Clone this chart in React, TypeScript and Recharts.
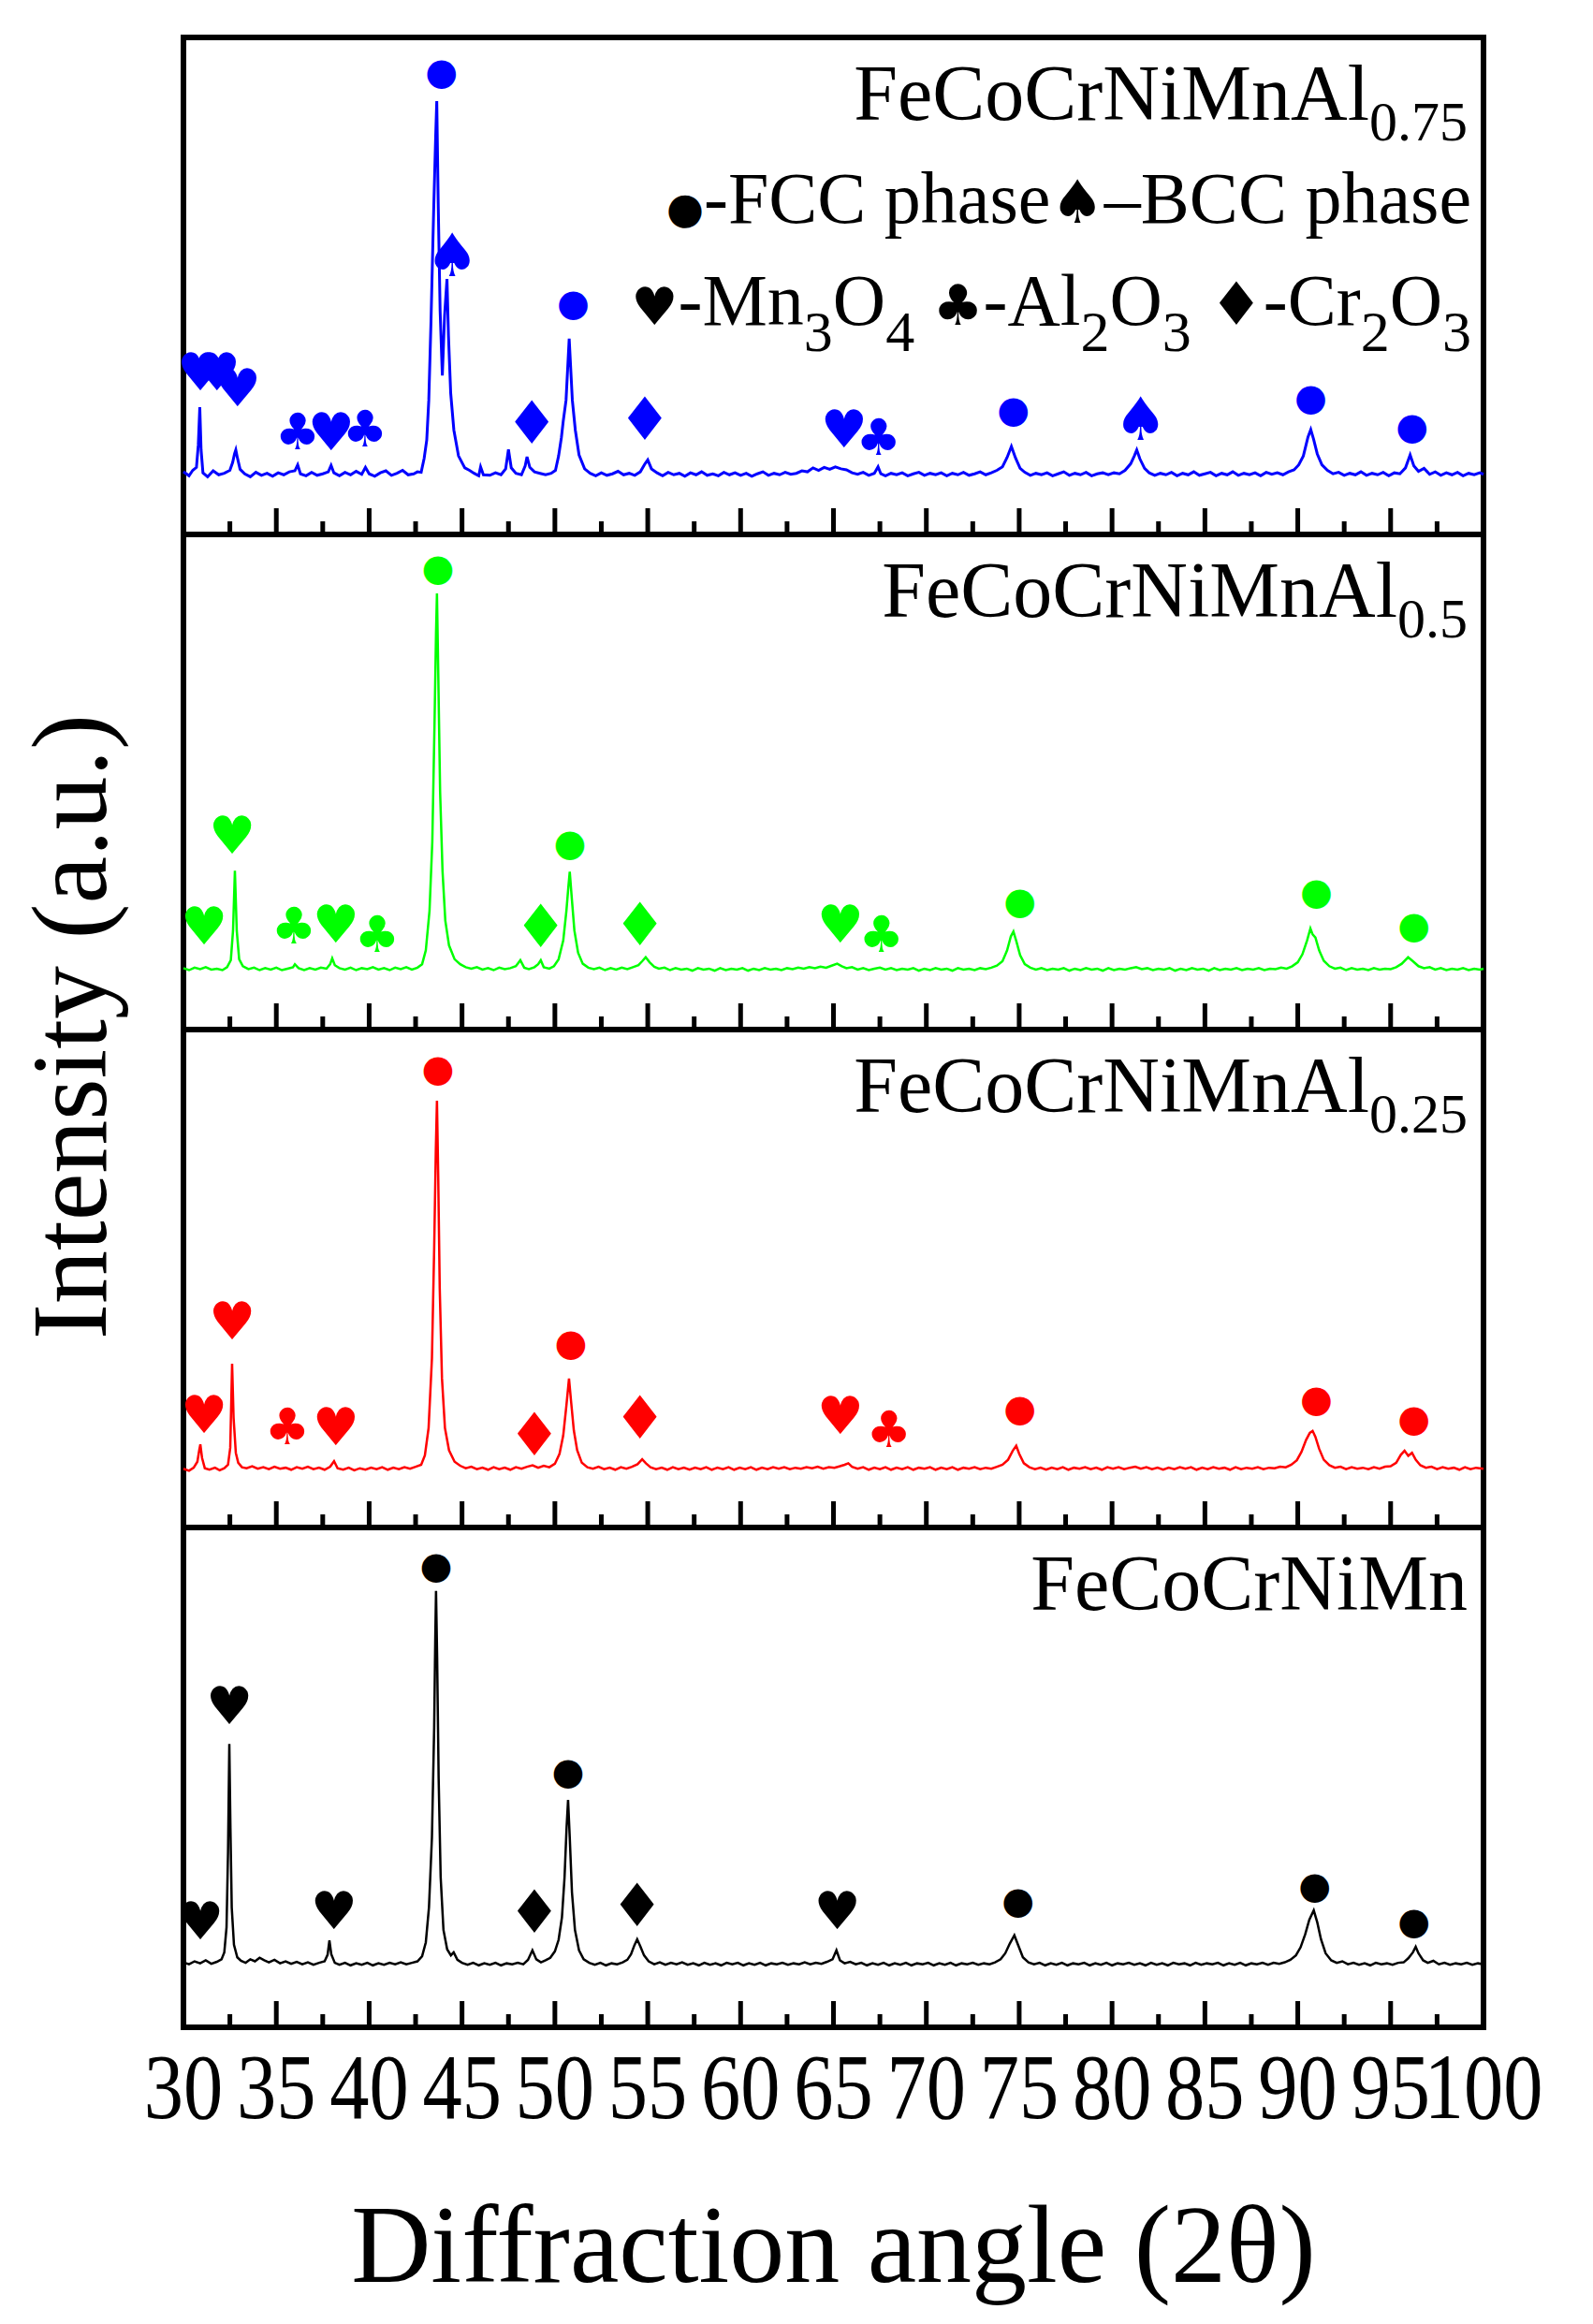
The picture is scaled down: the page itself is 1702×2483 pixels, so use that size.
import { ComposedChart, Line, Scatter, XAxis, YAxis, ReferenceArea } from 'recharts'

// 2θ scans, intensity in a.u. (0-100 per panel)
const al075Scan: [number, number][] = [
  [30.0, 12.6], [30.3, 11.8], [30.5, 12.9], [30.7, 13.5], [30.8, 18], [30.88, 25.6], [30.95, 17], [31.05, 12.4],
  [31.3, 11.6], [31.6, 12.8], [31.9, 12.0], [32.2, 12.3], [32.5, 12.9], [32.65, 14.5], [32.75, 16.2], [32.82, 17],
  [32.9, 15.5], [33.05, 13.1], [33.3, 12.2], [33.6, 11.6], [33.9, 12.5], [34.2, 11.9], [34.5, 12.3], [34.8, 11.7],
  [35.1, 12.4], [35.4, 12.0], [35.7, 12.6], [36.0, 12.8], [36.15, 14.0], [36.3, 12.2], [36.6, 11.8], [36.9, 12.5],
  [37.2, 11.9], [37.5, 12.2], [37.8, 12.6], [37.95, 13.9], [38.1, 12.4], [38.4, 11.8], [38.7, 12.5], [39.0, 12.0],
  [39.3, 12.7], [39.6, 12.1], [39.8, 13.5], [40.0, 12.2], [40.3, 11.7], [40.6, 12.4], [40.9, 12.8], [41.2, 11.9],
  [41.5, 12.3], [41.8, 12.9], [42.1, 12.0], [42.4, 12.2], [42.6, 12.6], [42.8, 12.5], [42.96, 15.3], [43.1, 19],
  [43.21, 27], [43.33, 43], [43.47, 64.8], [43.58, 80], [43.64, 87.2], [43.72, 66], [43.82, 45], [43.94, 32],
  [44.06, 44], [44.19, 51.4], [44.27, 40], [44.39, 28.4], [44.56, 21], [44.81, 15.8], [45.15, 13.4], [45.4, 12.9],
  [45.65, 12.3], [45.9, 11.8], [46.0, 13.6], [46.15, 12.0], [46.5, 11.9], [46.8, 12.4], [47.1, 12.0], [47.35, 13.2],
  [47.5, 17.1], [47.65, 13.4], [47.9, 12.3], [48.2, 12.0], [48.4, 13.8], [48.5, 15.6], [48.65, 13.5], [48.9, 12.6],
  [49.2, 12.3], [49.5, 12.0], [49.8, 12.3], [50.03, 12.9], [50.2, 15.8], [50.35, 19.5], [50.45, 22.8], [50.6, 27],
  [50.77, 39.4], [50.94, 27], [51.1, 21], [51.3, 16], [51.6, 13.2], [51.9, 12.3], [52.2, 11.8], [52.5, 12.4],
  [52.8, 11.9], [53.1, 12.2], [53.4, 12.7], [53.7, 12.0], [54.0, 12.3], [54.3, 11.9], [54.6, 12.6], [54.85, 14.2],
  [55.0, 15.0], [55.2, 13.2], [55.5, 12.4], [55.8, 11.8], [56.1, 12.5], [56.4, 12.0], [56.7, 12.3], [57.0, 11.7],
  [57.3, 12.4], [57.6, 12.0], [57.9, 12.6], [58.2, 11.9], [58.5, 12.2], [58.8, 11.8], [59.1, 12.5], [59.4, 12.0],
  [59.7, 12.4], [60.0, 11.9], [60.3, 12.3], [60.6, 11.7], [60.9, 12.2], [61.2, 12.6], [61.5, 11.9], [61.8, 12.3],
  [62.1, 12.0], [62.4, 12.5], [62.7, 12.1], [63.0, 12.3], [63.3, 12.8], [63.6, 12.6], [63.9, 13.4], [64.2, 12.9],
  [64.5, 13.5], [64.8, 13.1], [65.1, 13.6], [65.4, 13.2], [65.7, 13.0], [66.0, 12.4], [66.3, 12.1], [66.6, 12.5],
  [66.9, 11.9], [67.2, 12.3], [67.4, 13.6], [67.55, 12.2], [67.8, 11.8], [68.1, 12.3], [68.4, 12.0], [68.7, 12.4],
  [69.0, 11.8], [69.3, 12.2], [69.6, 12.5], [69.9, 11.9], [70.2, 12.3], [70.5, 12.0], [70.8, 12.4], [71.1, 11.8],
  [71.4, 12.3], [71.7, 12.0], [72.0, 12.5], [72.3, 11.9], [72.6, 12.2], [72.9, 12.6], [73.2, 12.0], [73.5, 12.4],
  [73.8, 12.9], [74.1, 13.6], [74.35, 15.5], [74.58, 17.7], [74.8, 15.4], [75.05, 13.3], [75.3, 12.5], [75.6, 11.9],
  [75.9, 12.3], [76.2, 12.0], [76.5, 12.4], [76.8, 11.8], [77.1, 12.2], [77.4, 12.6], [77.7, 11.9], [78.0, 12.3],
  [78.3, 12.0], [78.6, 12.5], [78.9, 11.8], [79.2, 12.2], [79.5, 12.4], [79.8, 12.0], [80.1, 12.4], [80.4, 12.2],
  [80.7, 12.9], [81.0, 14.2], [81.2, 15.8], [81.33, 17], [81.5, 15.2], [81.75, 13.3], [82.0, 12.4], [82.3, 11.9],
  [82.6, 12.3], [82.9, 12.0], [83.2, 12.5], [83.5, 11.8], [83.8, 12.3], [84.1, 12.0], [84.4, 12.6], [84.7, 11.9],
  [85.0, 12.2], [85.3, 12.5], [85.6, 11.8], [85.9, 12.3], [86.2, 12.0], [86.5, 12.6], [86.8, 11.9], [87.1, 12.3],
  [87.4, 12.0], [87.7, 12.4], [88.0, 11.8], [88.3, 12.5], [88.6, 12.1], [88.9, 12.4], [89.2, 12.0], [89.5, 12.6],
  [89.8, 13.0], [90.05, 14.0], [90.3, 15.8], [90.55, 19.6], [90.7, 21.1], [90.85, 19.2], [91.05, 16.2], [91.3, 14.0],
  [91.6, 12.9], [91.9, 12.2], [92.2, 12.5], [92.5, 11.9], [92.8, 12.3], [93.1, 12.0], [93.4, 12.6], [93.7, 11.9],
  [94.0, 12.3], [94.3, 12.0], [94.6, 12.5], [94.9, 11.8], [95.2, 12.4], [95.5, 12.2], [95.8, 13.4], [96.05, 16.0],
  [96.25, 13.8], [96.5, 12.7], [96.8, 13.3], [97.1, 12.1], [97.4, 12.6], [97.7, 11.9], [98.0, 12.4], [98.3, 12.0],
  [98.6, 12.5], [98.9, 11.8], [99.2, 12.3], [99.5, 12.0], [99.8, 12.4], [100, 12.1],
]

const al05Scan: [number, number][] = [
  [30.0, 12.4], [30.3, 12.0], [30.6, 12.5], [30.9, 12.2], [31.2, 12.6], [31.5, 12.1], [31.8, 12.3], [32.1, 12.0],
  [32.35, 12.6], [32.55, 14.0], [32.67, 20], [32.77, 32.1], [32.87, 20], [33.0, 14.2], [33.2, 12.8], [33.5, 12.2],
  [33.8, 12.5], [34.1, 12.0], [34.4, 12.4], [34.7, 12.1], [35.0, 12.5], [35.3, 12.0], [35.6, 12.3], [35.9, 12.6],
  [36.0, 13.2], [36.2, 12.4], [36.5, 12.0], [36.8, 12.4], [37.1, 12.1], [37.4, 12.5], [37.7, 12.3], [37.9, 13.2],
  [38.01, 14.4], [38.15, 13.0], [38.4, 12.4], [38.7, 12.1], [39.0, 12.5], [39.3, 12.0], [39.6, 12.4], [39.9, 12.2],
  [40.2, 12.6], [40.5, 12.1], [40.8, 12.4], [41.1, 12.0], [41.4, 12.5], [41.7, 12.2], [42.0, 12.6], [42.3, 12.1],
  [42.6, 12.5], [42.85, 13.2], [43.05, 16], [43.25, 24], [43.4, 38], [43.52, 62], [43.6, 80], [43.65, 88.1],
  [43.72, 72], [43.82, 48], [43.95, 32], [44.1, 22], [44.3, 17], [44.6, 14.2], [44.9, 13.2], [45.2, 12.6],
  [45.5, 12.3], [45.8, 12.6], [46.1, 12.1], [46.4, 12.4], [46.7, 12.0], [47.0, 12.5], [47.3, 12.2], [47.6, 12.4],
  [47.9, 12.8], [48.14, 14.0], [48.35, 12.5], [48.6, 12.2], [48.9, 12.6], [49.1, 13.2], [49.24, 14.0], [49.4, 12.6],
  [49.7, 12.3], [49.95, 12.8], [50.2, 14.2], [50.45, 18], [50.62, 24], [50.73, 29], [50.8, 31.9], [50.9, 27],
  [51.05, 20], [51.25, 15.5], [51.5, 13.3], [51.8, 12.5], [52.1, 12.2], [52.4, 12.5], [52.7, 12.0], [53.0, 12.4],
  [53.3, 12.1], [53.6, 12.5], [53.9, 12.2], [54.2, 12.6], [54.5, 13.0], [54.7, 13.8], [54.89, 14.6], [55.1, 13.6],
  [55.35, 12.7], [55.6, 12.3], [55.9, 12.5], [56.2, 12.0], [56.5, 12.4], [56.8, 12.1], [57.1, 12.3], [57.4, 11.9],
  [57.7, 12.4], [58.0, 12.1], [58.3, 12.3], [58.6, 11.9], [58.9, 12.4], [59.2, 12.0], [59.5, 12.3], [59.8, 12.1],
  [60.1, 12.4], [60.4, 11.9], [60.7, 12.3], [61.0, 12.0], [61.3, 12.4], [61.6, 12.1], [61.9, 12.3], [62.2, 12.0],
  [62.5, 12.4], [62.8, 12.2], [63.1, 12.5], [63.4, 12.3], [63.7, 12.6], [64.0, 12.4], [64.3, 12.7], [64.6, 12.5],
  [64.9, 12.9], [65.2, 13.3], [65.45, 12.8], [65.7, 12.4], [66.0, 12.6], [66.3, 12.1], [66.6, 12.4], [66.9, 12.0],
  [67.2, 12.3], [67.5, 12.5], [67.8, 12.1], [68.1, 12.4], [68.4, 12.0], [68.7, 12.3], [69.0, 12.1], [69.3, 12.4],
  [69.6, 11.9], [69.9, 12.3], [70.2, 12.0], [70.5, 12.4], [70.8, 12.1], [71.1, 12.3], [71.4, 11.9], [71.7, 12.4],
  [72.0, 12.1], [72.3, 12.3], [72.6, 12.0], [72.9, 12.4], [73.2, 12.2], [73.5, 12.5], [73.8, 12.9], [74.1, 13.8],
  [74.35, 16.0], [74.55, 18.8], [74.69, 19.8], [74.85, 17.8], [75.05, 15.0], [75.3, 13.2], [75.6, 12.5], [75.9, 12.1],
  [76.2, 12.4], [76.5, 12.0], [76.8, 12.3], [77.1, 12.1], [77.4, 12.4], [77.7, 11.9], [78.0, 12.3], [78.3, 12.0],
  [78.6, 12.4], [78.9, 12.1], [79.2, 12.3], [79.5, 11.9], [79.8, 12.4], [80.1, 12.0], [80.4, 12.3], [80.7, 12.1],
  [81.0, 12.4], [81.3, 12.6], [81.6, 12.2], [81.9, 12.4], [82.2, 12.0], [82.5, 12.3], [82.8, 12.1], [83.1, 12.4],
  [83.4, 11.9], [83.7, 12.3], [84.0, 12.0], [84.3, 12.4], [84.6, 12.1], [84.9, 12.3], [85.2, 11.9], [85.5, 12.4],
  [85.8, 12.0], [86.1, 12.3], [86.4, 12.1], [86.7, 12.4], [87.0, 12.0], [87.3, 12.3], [87.6, 12.1], [87.9, 12.4],
  [88.2, 12.0], [88.5, 12.3], [88.8, 12.2], [89.1, 12.5], [89.4, 12.3], [89.7, 12.8], [90.0, 13.6], [90.25, 15.2],
  [90.5, 18.0], [90.68, 20.4], [90.8, 19.2], [90.95, 18.6], [91.15, 16.0], [91.4, 13.9], [91.7, 12.8], [92.0, 12.3],
  [92.3, 12.5], [92.6, 12.0], [92.9, 12.4], [93.2, 12.1], [93.5, 12.3], [93.8, 12.0], [94.1, 12.4], [94.4, 12.1],
  [94.7, 12.3], [95.0, 12.2], [95.3, 12.6], [95.6, 13.3], [95.94, 14.6], [96.2, 13.8], [96.5, 12.8], [96.8, 12.4],
  [97.1, 12.6], [97.4, 12.1], [97.7, 12.4], [98.0, 12.0], [98.3, 12.3], [98.6, 12.1], [98.9, 12.4], [99.2, 12.0],
  [99.5, 12.3], [99.8, 12.1], [100, 12.3],
]

const al025Scan: [number, number][] = [
  [30.0, 11.8], [30.3, 11.4], [30.55, 12.0], [30.75, 13.2], [30.85, 15.5], [30.91, 16.7], [31.0, 14.0], [31.15, 11.9],
  [31.4, 11.6], [31.7, 12.0], [31.95, 11.5], [32.2, 11.9], [32.4, 12.6], [32.52, 16], [32.62, 32.9], [32.7, 22],
  [32.82, 15], [32.95, 13.0], [33.15, 12.1], [33.4, 11.9], [33.7, 12.3], [34.0, 11.8], [34.3, 12.1], [34.6, 11.7],
  [34.9, 12.2], [35.2, 11.8], [35.5, 12.0], [35.8, 11.6], [36.1, 12.1], [36.4, 11.8], [36.7, 12.2], [37.0, 11.7],
  [37.3, 12.0], [37.6, 11.6], [37.9, 12.2], [38.11, 13.3], [38.3, 11.9], [38.6, 11.6], [38.9, 12.0], [39.2, 11.5],
  [39.5, 11.9], [39.8, 11.6], [40.1, 12.0], [40.4, 11.7], [40.7, 12.1], [41.0, 11.6], [41.3, 12.0], [41.6, 11.7],
  [41.9, 12.1], [42.2, 11.8], [42.5, 12.2], [42.8, 12.6], [43.0, 14.5], [43.2, 20], [43.38, 34], [43.5, 56],
  [43.59, 76], [43.65, 85.7], [43.72, 70], [43.8, 48], [43.92, 30], [44.08, 20], [44.3, 15.5], [44.6, 13.2],
  [44.9, 12.4], [45.2, 11.9], [45.5, 12.2], [45.8, 11.7], [46.1, 12.0], [46.4, 11.6], [46.7, 12.1], [47.0, 11.7],
  [47.3, 12.0], [47.6, 11.6], [47.9, 12.1], [48.2, 11.8], [48.5, 12.2], [48.8, 12.5], [49.1, 12.0], [49.4, 12.4],
  [49.7, 12.1], [50.0, 12.8], [50.25, 14.8], [50.45, 18.5], [50.62, 24.5], [50.76, 29.9], [50.88, 25], [51.02, 19.5],
  [51.2, 15.5], [51.45, 13.0], [51.75, 12.1], [52.05, 11.8], [52.35, 12.2], [52.65, 11.7], [52.95, 12.0], [53.25, 11.6],
  [53.55, 12.1], [53.85, 11.8], [54.15, 12.2], [54.45, 12.7], [54.7, 13.7], [54.9, 12.9], [55.15, 12.1], [55.45, 11.7],
  [55.75, 12.0], [56.05, 11.6], [56.35, 12.1], [56.65, 11.7], [56.95, 12.0], [57.25, 11.6], [57.55, 12.0], [57.85, 11.7],
  [58.15, 12.1], [58.45, 11.6], [58.75, 12.0], [59.05, 11.7], [59.35, 12.1], [59.65, 11.6], [59.95, 12.0], [60.25, 11.7],
  [60.55, 12.1], [60.85, 11.6], [61.15, 12.0], [61.45, 11.7], [61.75, 12.1], [62.05, 11.8], [62.35, 12.1], [62.65, 11.7],
  [62.95, 12.0], [63.25, 11.8], [63.55, 12.1], [63.85, 11.9], [64.15, 12.2], [64.45, 11.8], [64.75, 12.1], [65.05, 12.0],
  [65.35, 12.3], [65.6, 12.6], [65.8, 12.9], [66.0, 12.2], [66.3, 11.8], [66.6, 12.1], [66.9, 11.6], [67.2, 12.0],
  [67.5, 11.7], [67.8, 12.1], [68.1, 11.6], [68.4, 12.0], [68.7, 11.7], [69.0, 12.1], [69.3, 11.6], [69.6, 12.0],
  [69.9, 11.8], [70.2, 12.1], [70.5, 11.6], [70.8, 12.0], [71.1, 11.7], [71.4, 12.1], [71.7, 11.6], [72.0, 12.0],
  [72.3, 11.8], [72.6, 12.1], [72.9, 11.7], [73.2, 12.0], [73.5, 11.8], [73.8, 12.2], [74.1, 12.6], [74.4, 13.6],
  [74.65, 15.4], [74.84, 16.4], [75.0, 14.8], [75.25, 12.9], [75.55, 12.1], [75.85, 11.7], [76.15, 12.0], [76.45, 11.6],
  [76.75, 12.0], [77.05, 11.7], [77.35, 12.1], [77.65, 11.6], [77.95, 12.0], [78.25, 11.8], [78.55, 12.1], [78.85, 11.7],
  [79.15, 12.0], [79.45, 11.6], [79.75, 12.1], [80.05, 11.8], [80.35, 12.1], [80.65, 11.7], [80.95, 12.0], [81.25, 12.2],
  [81.55, 11.8], [81.85, 12.1], [82.15, 11.7], [82.45, 12.0], [82.75, 11.6], [83.05, 12.0], [83.35, 11.7], [83.65, 12.1],
  [83.95, 11.8], [84.25, 12.1], [84.55, 11.6], [84.85, 12.0], [85.15, 11.7], [85.45, 12.1], [85.75, 11.8], [86.05, 12.0],
  [86.35, 11.6], [86.65, 12.1], [86.95, 11.7], [87.25, 12.0], [87.55, 11.8], [87.85, 12.1], [88.15, 11.7], [88.45, 12.0],
  [88.75, 11.9], [89.05, 12.2], [89.35, 12.1], [89.65, 12.6], [89.95, 13.5], [90.2, 15.2], [90.45, 17.6], [90.65, 19.0],
  [90.8, 19.4], [90.95, 18.2], [91.15, 15.8], [91.4, 13.6], [91.7, 12.5], [92.0, 12.0], [92.3, 12.2], [92.6, 11.7],
  [92.9, 12.1], [93.2, 11.8], [93.5, 12.0], [93.8, 11.7], [94.1, 12.1], [94.4, 11.8], [94.7, 12.2], [95.0, 12.3],
  [95.3, 13.0], [95.55, 14.6], [95.75, 15.4], [95.95, 14.4], [96.15, 15.0], [96.35, 13.6], [96.6, 12.5], [96.9, 12.0],
  [97.2, 12.2], [97.5, 11.7], [97.8, 12.1], [98.1, 11.8], [98.4, 12.0], [98.7, 11.6], [99.0, 12.1], [99.3, 11.7],
  [99.6, 12.0], [100, 11.8],
]

const al0Scan: [number, number][] = [
  [30.0, 13.0], [30.3, 12.6], [30.6, 13.2], [30.9, 12.8], [31.2, 13.4], [31.5, 12.7], [31.8, 13.1], [32.05, 13.6],
  [32.2, 15.0], [32.32, 20], [32.4, 35], [32.47, 56.7], [32.53, 40], [32.6, 24], [32.72, 16.5], [32.9, 14.0],
  [33.1, 13.3], [33.35, 12.9], [33.6, 13.6], [33.85, 13.2], [34.1, 13.9], [34.35, 13.4], [34.6, 13.0], [34.9, 13.5],
  [35.2, 12.8], [35.5, 13.2], [35.8, 12.7], [36.1, 13.1], [36.4, 12.6], [36.7, 13.0], [37.0, 12.5], [37.3, 12.9],
  [37.6, 13.2], [37.76, 14.5], [37.86, 17.4], [37.96, 14.6], [38.15, 12.9], [38.4, 12.5], [38.7, 12.9], [39.0, 12.4],
  [39.3, 12.8], [39.6, 12.5], [39.9, 12.9], [40.2, 12.4], [40.5, 12.8], [40.8, 12.5], [41.1, 12.9], [41.4, 12.6],
  [41.7, 13.0], [42.0, 12.6], [42.3, 12.9], [42.6, 13.2], [42.85, 14.2], [43.05, 17.0], [43.22, 24], [43.38, 38],
  [43.5, 60], [43.56, 78], [43.6, 87.3], [43.66, 74], [43.74, 50], [43.85, 30], [44.0, 19.5], [44.2, 15.6],
  [44.4, 14.4], [44.55, 15.0], [44.75, 13.5], [45.0, 12.9], [45.3, 12.5], [45.6, 12.9], [45.9, 12.4], [46.2, 12.8],
  [46.5, 12.5], [46.8, 12.9], [47.1, 12.4], [47.4, 12.8], [47.7, 12.6], [48.0, 12.9], [48.3, 12.6], [48.55, 13.5],
  [48.79, 15.4], [49.0, 13.6], [49.25, 13.0], [49.5, 13.4], [49.75, 13.9], [50.0, 15.2], [50.2, 17.5], [50.38, 22],
  [50.52, 30], [50.63, 40], [50.71, 45.5], [50.8, 38], [50.92, 27], [51.08, 19.5], [51.3, 15.4], [51.55, 13.6],
  [51.85, 12.9], [52.15, 12.5], [52.45, 12.9], [52.75, 12.4], [53.05, 12.8], [53.35, 12.6], [53.65, 13.0], [53.9, 13.5],
  [54.1, 14.6], [54.28, 16.4], [54.43, 17.6], [54.6, 16.2], [54.8, 14.4], [55.05, 13.2], [55.35, 12.6], [55.65, 13.0],
  [55.95, 12.5], [56.25, 12.9], [56.55, 12.6], [56.85, 13.0], [57.15, 12.5], [57.45, 12.8], [57.75, 12.4], [58.05, 12.9],
  [58.35, 12.5], [58.65, 12.8], [58.95, 12.4], [59.25, 12.9], [59.55, 12.6], [59.85, 12.9], [60.15, 12.4], [60.45, 12.8],
  [60.75, 12.5], [61.05, 12.9], [61.35, 12.4], [61.65, 12.8], [61.95, 12.6], [62.25, 12.9], [62.55, 12.5], [62.85, 12.8],
  [63.15, 12.6], [63.45, 13.0], [63.75, 12.6], [64.05, 12.9], [64.35, 12.7], [64.65, 13.1], [64.95, 13.6], [65.16, 15.4],
  [65.35, 13.4], [65.6, 12.8], [65.9, 13.1], [66.2, 12.6], [66.5, 12.9], [66.8, 12.4], [67.1, 12.8], [67.4, 12.5],
  [67.7, 12.9], [68.0, 12.4], [68.3, 12.8], [68.6, 12.5], [68.9, 12.9], [69.2, 12.4], [69.5, 12.8], [69.8, 12.6],
  [70.1, 12.9], [70.4, 12.4], [70.7, 12.8], [71.0, 12.5], [71.3, 12.9], [71.6, 12.4], [71.9, 12.8], [72.2, 12.6],
  [72.5, 12.9], [72.8, 12.5], [73.1, 12.8], [73.4, 12.6], [73.7, 13.0], [74.0, 13.6], [74.25, 14.8], [74.5, 16.8],
  [74.74, 18.4], [74.95, 16.4], [75.2, 14.0], [75.5, 13.0], [75.8, 12.6], [76.1, 12.9], [76.4, 12.4], [76.7, 12.8],
  [77.0, 12.5], [77.3, 12.9], [77.6, 12.4], [77.9, 12.8], [78.2, 12.6], [78.5, 12.9], [78.8, 12.4], [79.1, 12.8],
  [79.4, 12.5], [79.7, 12.9], [80.0, 12.4], [80.3, 12.8], [80.6, 12.6], [80.9, 12.9], [81.2, 12.5], [81.5, 12.8],
  [81.8, 12.4], [82.1, 12.9], [82.4, 12.5], [82.7, 12.8], [83.0, 12.4], [83.3, 12.9], [83.6, 12.6], [83.9, 12.8],
  [84.2, 12.4], [84.5, 12.9], [84.8, 12.5], [85.1, 12.8], [85.4, 12.6], [85.7, 12.9], [86.0, 12.4], [86.3, 12.8],
  [86.6, 12.5], [86.9, 12.9], [87.2, 12.4], [87.5, 12.8], [87.8, 12.6], [88.1, 12.9], [88.4, 12.5], [88.7, 12.9],
  [89.0, 12.7], [89.3, 13.0], [89.6, 13.5], [89.9, 14.4], [90.15, 16.0], [90.4, 18.6], [90.62, 21.5], [90.86, 23.4],
  [91.05, 21.0], [91.25, 17.6], [91.5, 14.8], [91.8, 13.4], [92.1, 12.9], [92.4, 13.2], [92.7, 12.6], [93.0, 12.9],
  [93.3, 12.5], [93.6, 12.8], [93.9, 12.4], [94.2, 12.9], [94.5, 12.6], [94.8, 12.8], [95.1, 12.5], [95.4, 12.9],
  [95.7, 13.0], [95.95, 13.8], [96.2, 15.0], [96.35, 16.1], [96.5, 14.8], [96.75, 13.4], [97.0, 12.9], [97.3, 13.3],
  [97.6, 12.6], [97.9, 12.9], [98.2, 12.5], [98.5, 12.8], [98.8, 12.6], [99.1, 12.9], [99.4, 12.5], [99.7, 12.8],
  [100, 12.6],
]

// phase markers: [2θ, height, symbol]
const al075Marks: [number, number, string][] = [
  [30.91, 32.6, '♥'], [31.81, 32.6, '♥'], [32.92, 29.4, '♥'], [36.15, 20.7, '♣'], [37.96, 20.7, '♥'],
  [39.77, 21.1, '♣'], [43.89, 93.3, '●'], [44.47, 56.1, '♠'], [48.76, 22.5, '♦'], [50.99, 46.7, '●'],
  [54.84, 23.2, '♦'], [65.57, 21.1, '♥'], [67.43, 19.4, '♣'], [74.69, 25.2, '●'], [81.54, 23.2, '♠'],
  [90.7, 27.7, '●'], [96.15, 21.8, '●'],
]
const al05Marks: [number, number, string][] = [
  [31.11, 20.8, '♥'], [32.62, 39.3, '♥'], [35.94, 20.8, '♣'], [38.21, 21.2, '♥'], [40.43, 19.1, '♣'],
  [43.7, 93.4, '●'], [49.24, 20.8, '♦'], [50.81, 37.8, '●'], [54.58, 21.2, '♦'], [65.37, 21.2, '♥'],
  [67.58, 19.1, '♣'], [75.04, 26.1, '●'], [91.0, 28.0, '●'], [96.25, 21.2, '●'],
]
const al025Marks: [number, number, string][] = [
  [31.11, 22.7, '♥'], [32.62, 41.5, '♥'], [35.59, 20.3, '♣'], [38.21, 20.3, '♥'], [43.7, 92.3, '●'],
  [48.89, 18.6, '♦'], [50.86, 37.2, '●'], [54.58, 22.0, '♦'], [65.37, 22.4, '♥'], [67.98, 19.7, '♣'],
  [75.04, 24.1, '●'], [91.0, 25.9, '●'], [96.25, 22.0, '●'],
]
const al0Marks: [number, number, string][] = [
  [30.91, 21.3, '♥'], [32.47, 64.4, '♥'], [38.11, 23.4, '♥'], [43.6, 92.5, '●'], [48.89, 23.0, '♦'],
  [50.71, 51.3, '●'], [54.43, 24.3, '♦'], [65.21, 23.4, '♥'], [74.94, 25.5, '●'], [90.91, 28.5, '●'],
  [96.25, 21.3, '●'],
]

const angleTicks = [
  30, 32.5, 35, 37.5, 40, 42.5, 45, 47.5, 50, 52.5, 55, 57.5, 60, 62.5, 65, 67.5, 70, 72.5, 75, 77.5, 80,
  82.5, 85, 87.5, 90, 92.5, 95, 97.5, 100,
]

const sampleNames = ['FeCoCrNiMnAl', 'FeCoCrNiMnAl', 'FeCoCrNiMnAl', 'FeCoCrNiMn']
const sampleSubs = ['0.75', '0.5', '0.25', '']
const sampleColors = ['#0000ff', '#00ff00', '#ff0000', '#000000']

const SERIF = "'Liberation Serif', 'Times New Roman', serif"
const SYMBOL = "'DejaVu Sans', sans-serif"

const glyphSize: Record<string, number> = { '●': 40, '♥': 56, '♣': 54, '♦': 64, '♠': 64 }

const panels = [
  { top: 40, bottom: 571, scan: al075Scan, marks: al075Marks },
  { top: 571, bottom: 1100, scan: al05Scan, marks: al05Marks },
  { top: 1100, bottom: 1632, scan: al025Scan, marks: al025Marks },
  { top: 1632, bottom: 2166, scan: al0Scan, marks: al0Marks },
]

function AngleTick(props: any) {
  const { x, y, payload, showLabel } = props
  const v = payload.value as number
  const major = v % 5 === 0
  return (
    <g>
      <line x1={x} x2={x} y1={y} y2={y - (major ? 28 : 14)} stroke="#000" strokeWidth={5} />
      {showLabel && major && (
        <text
          transform={`translate(${x},${y + 97}) scale(0.96,1.12)`}
          textAnchor="middle"
          fontSize={88}
          fontFamily={SERIF}
          fill="#000"
        >
          {v}
        </text>
      )}
    </g>
  )
}

function MarkGlyph(props: any) {
  const { cx, cy, payload, color } = props
  return (
    <text
      x={cx}
      y={cy}
      fill={color}
      fontSize={glyphSize[payload.s] || 46}
      fontFamily={SYMBOL}
      textAnchor="middle"
      dominantBaseline="central"
    >
      {payload.s}
    </text>
  )
}

function Panel({ idx }: { idx: number }) {
  const p = panels[idx]
  const last = idx === panels.length - 1
  const axisH = last ? 2483 - p.bottom : 10
  const color = sampleColors[idx]
  const data = p.scan.map(([x, y]) => ({ x, y }))
  const markData = p.marks.map(([x, y, s]) => ({ x, y, s }))
  return (
    <div style={{ position: 'absolute', left: 0, top: p.top - 10 }}>
      <ComposedChart
        width={1702}
        height={p.bottom - p.top + 10 + axisH}
        data={data}
        margin={{ top: 10, right: 117, bottom: 0, left: 196 }}
      >
        <XAxis
          dataKey="x"
          type="number"
          domain={[30, 100]}
          ticks={angleTicks}
          interval={0}
          height={axisH}
          axisLine={false}
          tickLine={false}
          tickSize={0}
          tickMargin={0}
          tick={(tp: any) => <AngleTick {...tp} showLabel={last} />}
          label={
            last
              ? {
                  value: 'Diffraction angle (2θ)',
                  position: 'insideBottom',
                  offset: 45,
                  fontSize: 118,
                  fill: '#000',
                  fontFamily: SERIF,
                }
              : undefined
          }
        />
        <YAxis hide type="number" dataKey="y" domain={[0, 100]} />
        <ReferenceArea x1={30} x2={100} y1={0} y2={100} fill="none" stroke="#000" strokeWidth={6} ifOverflow="visible" />
        <Line type="linear" dataKey="y" stroke={color} strokeWidth={idx === 0 ? 3 : 2.5} dot={false} isAnimationActive={false} />
        <Scatter
          data={markData}
          dataKey="y"
          fill={color}
          isAnimationActive={false}
          shape={(sp: any) => <MarkGlyph {...sp} color={color} />}
        />
      </ComposedChart>
    </div>
  )
}

export default function App() {
  return (
    <div style={{ position: 'absolute', left: 0, top: 0, width: 1702, height: 2483, background: '#fff' }}>
      {panels.map((_, i) => (
        <Panel key={i} idx={i} />
      ))}
      <svg
        width={1702}
        height={2483}
        style={{ position: 'absolute', left: 0, top: 0, pointerEvents: 'none' }}
        fontFamily={SERIF}
      >
        <text transform="translate(113,1097) rotate(-90)" textAnchor="middle" fontSize={114} fill="#000">
          Intensity (a.u.)
        </text>
        {panels.map((p, i) => (
          <text key={i} x={1568} y={p.top + 88} textAnchor="end" fontSize={84} fill="#000">
            {sampleNames[i]}
            {sampleSubs[i] && (
              <tspan fontSize={60} dy={22}>
                {sampleSubs[i]}
              </tspan>
            )}
          </text>
        ))}
        <text x={1572} y={238} textAnchor="end" fontSize={78} fill="#000">
          <tspan fontFamily={SYMBOL} fontSize={46}>●</tspan>-FCC phase
          <tspan fontFamily={SYMBOL} fontSize={64}>♠</tspan>–BCC phase
        </text>
        <text x={1572} y={347} textAnchor="end" fontSize={78} fill="#000">
          <tspan fontFamily={SYMBOL} fontSize={56}>♥</tspan>-Mn
          <tspan fontSize={62} dy={28}>3</tspan>
          <tspan dy={-28}>O</tspan>
          <tspan fontSize={62} dy={28}>4</tspan>
          <tspan dy={-28}> </tspan>
          <tspan fontFamily={SYMBOL} fontSize={60}>♣</tspan>-Al
          <tspan fontSize={62} dy={28}>2</tspan>
          <tspan dy={-28}>O</tspan>
          <tspan fontSize={62} dy={28}>3</tspan>
          <tspan dy={-28}> </tspan>
          <tspan fontFamily={SYMBOL} fontSize={64}>♦</tspan>-Cr
          <tspan fontSize={62} dy={28}>2</tspan>
          <tspan dy={-28}>O</tspan>
          <tspan fontSize={62} dy={28}>3</tspan>
        </text>
      </svg>
    </div>
  )
}
